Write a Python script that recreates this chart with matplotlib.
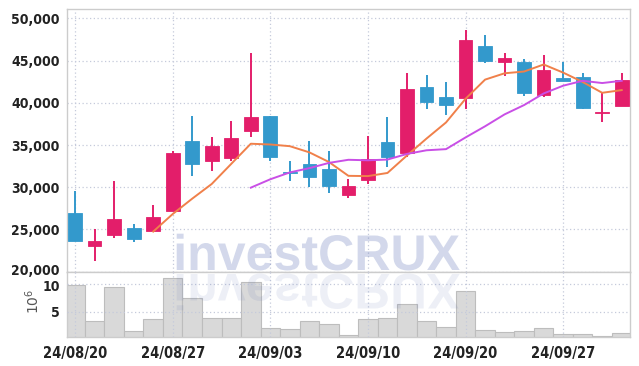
import matplotlib
matplotlib.use('Agg')
import matplotlib.pyplot as plt
from matplotlib import font_manager
from matplotlib.textpath import TextPath
from matplotlib.patches import PathPatch
from matplotlib.transforms import Affine2D, IdentityTransform, ScaledTranslation
import numpy as np
import pandas as pd

dates = ['24/08/20', '24/08/21', '24/08/22', '24/08/23', '24/08/26', '24/08/27',
         '24/08/28', '24/08/29', '24/08/30', '24/09/02', '24/09/03', '24/09/04',
         '24/09/05', '24/09/06', '24/09/09', '24/09/10', '24/09/11', '24/09/12',
         '24/09/13', '24/09/19', '24/09/20', '24/09/23', '24/09/24', '24/09/25',
         '24/09/26', '24/09/27', '24/09/30', '24/10/02', '24/10/04']
open_ = [27000, 23050, 24350, 25150, 24850, 27200, 35500, 33050, 33500, 36600,
         38400, 31800, 32750, 32200, 29050, 30900, 35300, 34050, 41850, 40650,
         40550, 46750, 44850, 44800, 40950, 42900, 43000, 38800, 39600]
high = [29550, 25100, 30750, 25700, 27900, 34300, 38400, 36000, 37800, 45950,
        38400, 33050, 35450, 34250, 30950, 36050, 38300, 43550, 43250, 42450,
        48600, 48000, 45850, 45150, 45650, 44850, 43550, 41250, 43500]
low = [23600, 21300, 23950, 23500, 24800, 27200, 31350, 31950, 33050, 35900,
       33150, 30750, 30050, 29300, 28750, 30350, 32350, 33600, 39300, 38600,
       39300, 44650, 43150, 40850, 40650, 42600, 39300, 37700, 39600]
close = [23600, 23600, 26200, 23900, 26450, 34000, 32700, 34900, 35800, 38350,
         33550, 31700, 31250, 30100, 30150, 33400, 33550, 41600, 40100, 39700,
         47400, 44900, 45350, 41150, 43850, 42600, 39350, 38950, 42750]
volume_m = [9.9, 3.4, 9.4, 1.6, 3.7, 11.0, 7.45, 3.9, 3.9, 10.3,
            2.1, 1.9, 3.35, 2.8, 0.84, 3.7, 3.9, 6.4, 3.35, 2.27,
            8.75, 1.73, 1.37, 1.6, 2.1, 1.02, 1.02, 0.77, 1.2]
tick_idx = [0, 5, 10, 15, 20, 25]
y_ticks = [20000, 25000, 30000, 35000, 40000, 45000, 50000]
vol_ticks = [5, 10]


def pick_tick_font():
    fl = font_manager.fontManager.ttflist

    def is_bold(f):
        w = f.weight
        if isinstance(w, str):
            return w in ('bold', 'semibold', 'demibold', 'heavy')
        return w >= 600

    def is_narrow(f):
        n = (f.name + ' ' + f.fname).lower()
        st = str(f.stretch).lower()
        return 'narrow' in n or 'condensed' in n or 'condensed' in st

    cands = [f for f in fl if is_narrow(f) and is_bold(f) and f.style == 'normal']
    cands.sort(key=lambda f: (0 if 'Liberation' in f.name else
                              1 if 'DejaVu' in f.name else 2))
    if cands:
        return font_manager.FontProperties(fname=cands[0].fname)
    return font_manager.FontProperties(family='Liberation Sans', weight='bold')


tfp = pick_tick_font()

RED = '#e31e6a'
BLUE = '#3399cc'
GRID = '#c5cadb'
SPINE = '#cccccc'

fig = plt.figure(figsize=(6.39, 3.66), dpi=100)
ax = fig.add_axes([0.1044, 0.256, 0.882, 0.7186])
axv = fig.add_axes([0.1044, 0.0784, 0.882, 0.1776])

x = np.arange(len(dates))
o = np.array(open_, float); c = np.array(close, float)
h = np.array(high, float); l = np.array(low, float)
up = c >= o
colors = np.where(up, RED, BLUE)

ax.vlines(x, l, h, colors=colors, lw=1.4, zorder=3)
bottoms = np.minimum(o, c)
heights = np.maximum(np.abs(c - o), 120)
ax.bar(x, heights, bottom=bottoms, width=0.7, color=colors, zorder=4,
       edgecolor=colors, linewidth=0.6)

ma5 = pd.Series(close, dtype=float).rolling(5).mean()
ma10 = pd.Series(close, dtype=float).rolling(10).mean()
ax.plot(x, ma5, color='#f0804a', lw=1.4, zorder=5)
ax.plot(x, ma10, color='#c94fe6', lw=1.4, zorder=5)

for a in (ax, axv):
    a.set_xlim(-0.43, 28.44)
    a.set_xticks(tick_idx)
    a.grid(True, color=GRID, linestyle=(0, (1, 2)), lw=0.9)
    a.tick_params(length=0, pad=5, labelcolor='#222222')
    for s in a.spines.values():
        s.set_color(SPINE)
        s.set_linewidth(1.0)

ax.set_ylim(19930, 51065)
ax.set_yticks(y_ticks)
ax.set_yticklabels([f'{v:,}' for v in y_ticks], fontproperties=tfp, fontsize=10)
ax.set_xticklabels([])
ax.set_axisbelow(True)

axv.bar(x, volume_m, width=1.0, color='#d9d9d9', edgecolor='#bdbdbd',
        linewidth=0.8, zorder=1)
axv.set_axisbelow(False)
axv.set_ylim(0.48, 12.09)
axv.set_yticks(vol_ticks)
axv.set_yticklabels([str(v) for v in vol_ticks], fontproperties=tfp, fontsize=10)
axv.set_xticklabels([dates[i] for i in tick_idx], fontproperties=tfp, fontsize=10.5)
axv.tick_params(axis='x', pad=6)
axv.text(-0.06, 0.55, r'$10^6$', transform=axv.transAxes, rotation=90,
         ha='center', va='center', fontsize=10, color='#555555')

# nudge the two adjacent labels apart so they do not touch
lab20k = ax.yaxis.get_major_ticks()[0].label1
lab20k.set_transform(lab20k.get_transform() +
                     ScaledTranslation(0, 2.5 / 100, fig.dpi_scale_trans))
vticks = axv.yaxis.get_major_ticks()
lab10 = vticks[1].label1
lab10.set_transform(lab10.get_transform() +
                    ScaledTranslation(0, -1.5 / 100, fig.dpi_scale_trans))

# watermark with reflection
fp = font_manager.FontProperties(family='Liberation Sans', weight='bold')
tp = TextPath((0, 0), 'investCRUX', size=100, prop=fp)
ext = tp.get_extents()
s = 283.0 / ext.width
x0 = 176.7 - ext.x0 * s
H = 366
t1 = Affine2D().scale(s).translate(x0, H - 270)
p1 = PathPatch(t1.transform_path(tp), facecolor='#5066b0', edgecolor='none',
               alpha=0.25, transform=IdentityTransform(), zorder=10)
fig.add_artist(p1)
t2 = Affine2D().scale(s, -s).translate(x0, H - 274)
p2 = PathPatch(t2.transform_path(tp), facecolor='#5066b0', edgecolor='none',
               alpha=0.10, transform=IdentityTransform(), zorder=10)
p2.set_clip_box(axv.bbox)
fig.add_artist(p2)

fig.savefig('out.png', dpi=100)
